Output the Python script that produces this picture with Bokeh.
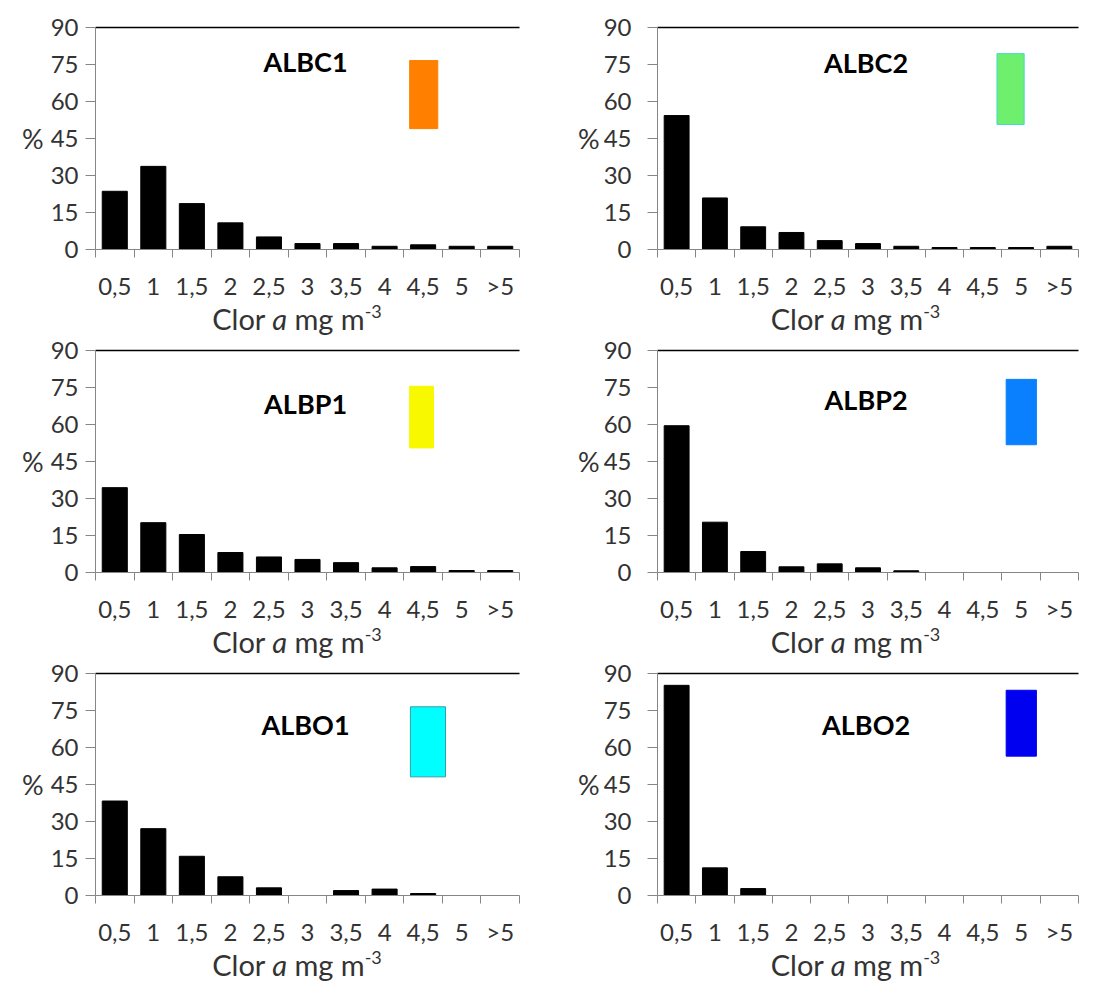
from bokeh.plotting import figure
from bokeh.models import Range1d, FixedTicker, LinearAxis, Label, Div, Spacer
from bokeh.layouts import column, row
from bokeh.embed import file_html
from bokeh.resources import INLINE

categories = ["0,5", "1", "1,5", "2", "2,5", "3", "3,5", "4", "4,5", "5", ">5"]
y_ticks = [0, 15, 30, 45, 60, 75, 90]

names = ["ALBC1", "ALBC2", "ALBP1", "ALBP2", "ALBO1", "ALBO2"]
albc1 = [23.6, 33.7, 18.6, 10.8, 5.1, 2.4, 2.4, 1.3, 1.9, 1.3, 1.3]
albc2 = [54.3, 20.9, 9.2, 6.9, 3.6, 2.4, 1.3, 0.8, 0.8, 0.8, 1.3]
albp1 = [34.4, 20.2, 15.4, 8.1, 6.3, 5.3, 4.0, 1.9, 2.4, 0.8, 0.8]
albp2 = [59.5, 20.4, 8.5, 2.3, 3.5, 1.9, 0.7, 0, 0, 0, 0]
albo1 = [38.3, 27.1, 15.9, 7.6, 3.1, 0, 2.0, 2.6, 0.8, 0, 0]
albo2 = [85.2, 11.2, 2.8, 0, 0, 0, 0, 0, 0, 0, 0]
series = [albc1, albc2, albp1, albp2, albo1, albo2]

swatch_colors = ["#FF8000", "#6EF06E", "#F8F800", "#0A80FF", "#00FFFF", "#0000F0"]
swatch_lines = ["#FF8000", "#40D8C8", "#F8F800", "#0A80FF", "#30A0A8", "#0000F0"]
# swatch extents (layout)
swatch_box = [
    (8.15, 8.88, 49.0, 76.6),
    (8.87, 9.58, 50.7, 79.4),
    (8.15, 8.77, 50.5, 75.5),
    (9.11, 9.90, 51.8, 78.3),
    (8.17, 9.08, 48.1, 76.5),
    (9.11, 9.90, 56.5, 83.2),
]
title_y = [76.2, 76.0, 68.5, 70.2, 69.3, 69.3]

FONT = "Lato"
TXT = "#333333"
AXC = "#868686"
XTITLE_HTML = ('Clor <i>a</i> mg m<span style="position:relative; top:-12px; '
               'font-size:18px;">-3</span>')


def make_panel(i):
    left_col = (i % 2 == 0)
    n = len(categories)
    if left_col:
        w, bl, br, pad = 550, 95, 31, 44
    else:
        w, bl, br, pad = 542, 107, 14, 69
    p = figure(width=w, height=290, output_backend="svg", toolbar_location=None,
               x_range=Range1d(0, n), y_range=Range1d(0, 90),
               min_border_left=bl, min_border_right=br, min_border_top=14, min_border_bottom=54,
               x_axis_type=None, y_axis_type=None)
    p.outline_line_color = None
    p.grid.visible = False
    p.background_fill_color = "white"
    p.border_fill_color = "white"

    centers = [k + 0.5 for k in range(n)]
    p.vbar(x=centers, top=series[i], width=0.65, bottom=0, fill_color="black", line_color="black")

    # y axis
    ya = LinearAxis(ticker=FixedTicker(ticks=y_ticks))
    ya.axis_line_color = AXC
    ya.major_tick_line_color = AXC
    ya.major_tick_out = 10
    ya.major_tick_in = 0
    ya.minor_tick_line_color = None
    ya.major_label_standoff = 7 if left_col else 16
    ya.major_label_text_font = FONT
    ya.major_label_text_font_size = "24px"
    ya.major_label_text_color = TXT
    ya.axis_label = "%"
    ya.axis_label_text_font = FONT
    ya.axis_label_text_font_size = "27px"
    ya.axis_label_text_font_style = "normal"
    ya.axis_label_text_color = TXT
    ya.axis_label_standoff = 4 if left_col else 1
    try:
        ya.axis_label_orientation = "horizontal"
    except Exception:
        pass
    p.add_layout(ya, "left")

    # x axis: labels at category centres, ticks at category boundaries
    xa = LinearAxis(ticker=FixedTicker(ticks=centers, minor_ticks=list(range(n + 1))))
    xa.major_label_overrides = {c: lab for c, lab in zip(centers, categories)}
    xa.axis_line_color = AXC
    xa.major_tick_line_color = None
    xa.major_tick_out = 0
    xa.major_tick_in = 0
    xa.minor_tick_line_color = AXC
    xa.minor_tick_out = 8
    xa.minor_tick_in = 0
    xa.major_label_standoff = 13
    xa.major_label_text_font = FONT
    xa.major_label_text_font_size = "24px"
    xa.major_label_text_color = TXT
    p.add_layout(xa, "below")

    # top border
    ta = LinearAxis(ticker=FixedTicker(ticks=[]))
    ta.axis_line_color = "black"
    ta.axis_line_width = 1.5
    ta.major_label_text_font_size = "0px"
    ta.major_label_standoff = 0
    ta.major_tick_line_color = None
    ta.minor_tick_line_color = None
    p.add_layout(ta, "above")

    # swatch
    l, r, b, t = swatch_box[i]
    p.quad(left=[l], right=[r], bottom=[b], top=[t], fill_color=swatch_colors[i],
           line_color=swatch_lines[i], line_width=1)

    # panel title
    p.add_layout(Label(x=5.45, y=title_y[i], text=names[i], text_font=FONT,
                       text_font_style="bold", text_font_size="27px", text_color="black",
                       text_align="center", text_baseline="middle"))

    # x axis title as HTML (italic a, superscript -3)
    d = Div(text=('<div style="width:%dpx; box-sizing:border-box; padding-left:%dpx; '
                  'text-align:center; font-family:Lato; font-size:29px; color:%s; '
                  'line-height:31px; white-space:nowrap;">%s</div>') % (w, pad, TXT, XTITLE_HTML),
            width=w, height=33, margin=0)
    return column(p, d, spacing=0)


panels = [make_panel(i) for i in range(6)]
layout = column(Spacer(height=13, width=10),
                row(panels[0], panels[1]),
                row(panels[2], panels[3]),
                row(panels[4], panels[5]))

open("out.html", "w").write(file_html(layout, INLINE))
